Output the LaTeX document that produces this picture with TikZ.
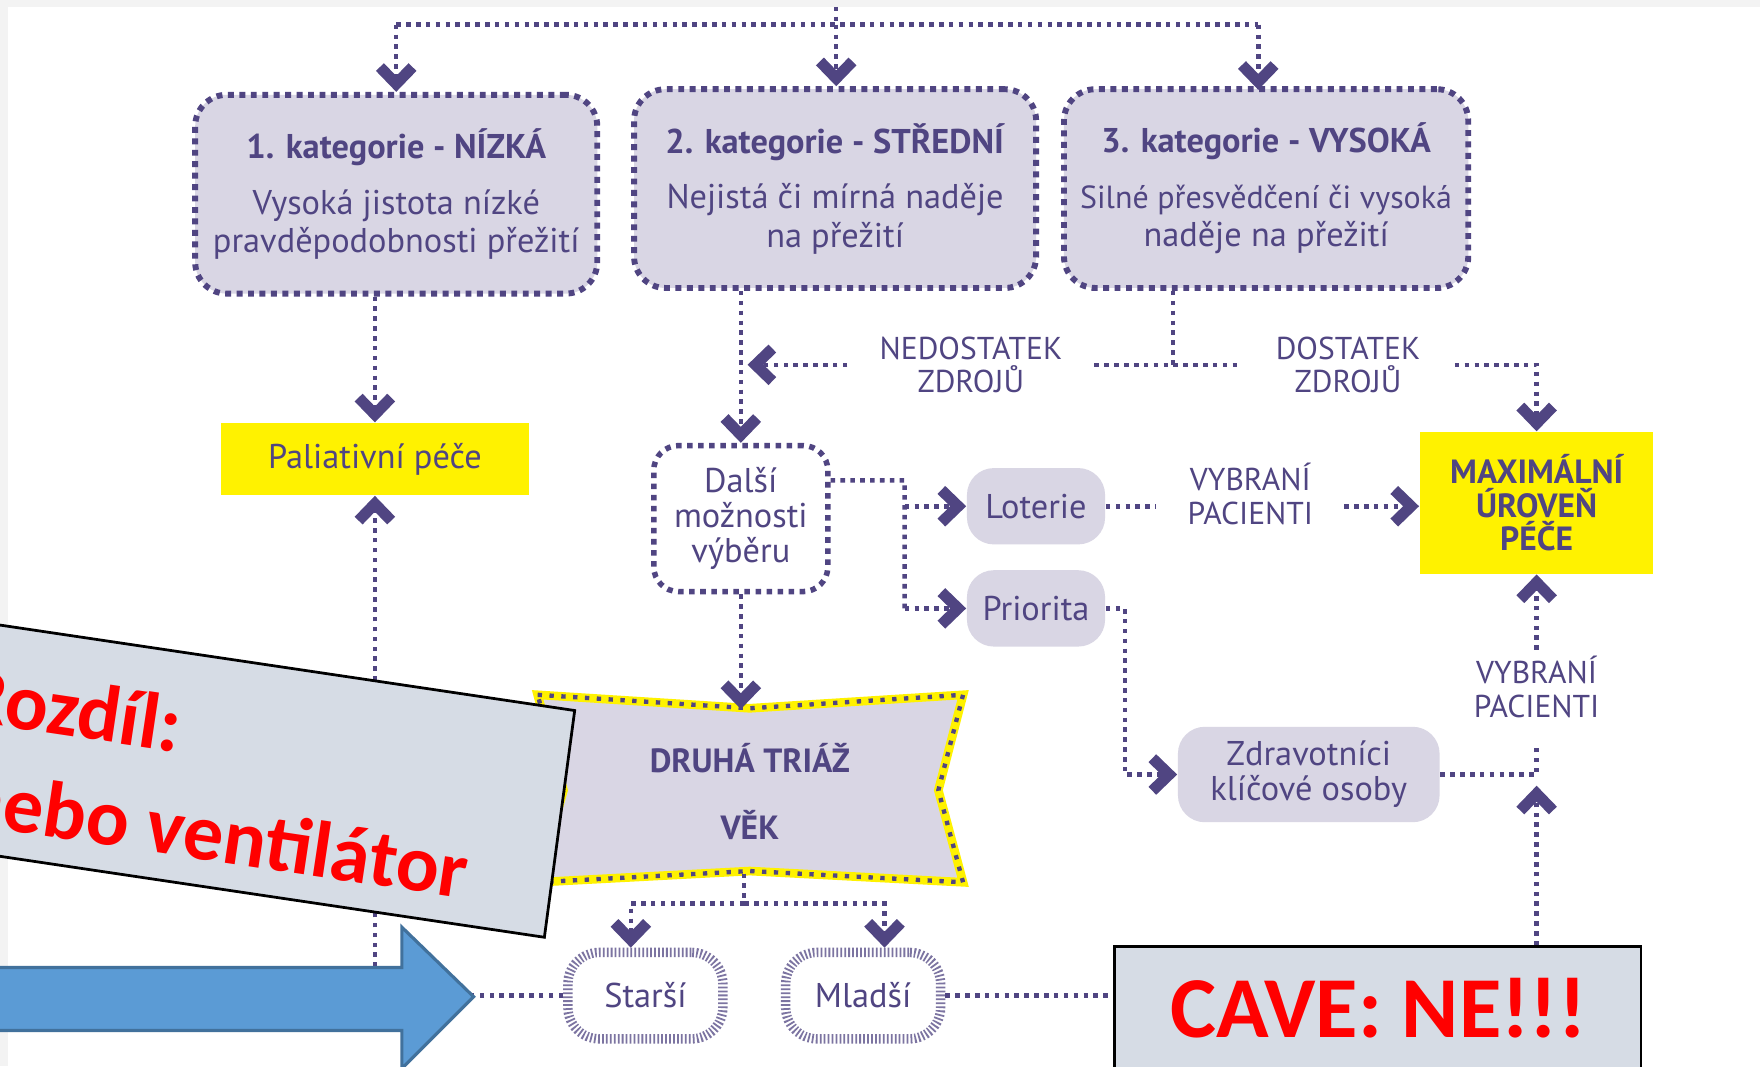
\documentclass[tikz,border=0pt]{standalone}
\usepackage{fontspec}
\setmainfont{PT Sans}
\newfontfamily\carlito{Carlito}
\usetikzlibrary{arrows.meta}

\definecolor{fialova}{RGB}{80,69,130}
\definecolor{levandule}{RGB}{217,214,228}
\definecolor{zluta}{RGB}{255,242,0}
\definecolor{modra}{RGB}{91,155,213}
\definecolor{modraokraj}{RGB}{65,113,156}
\definecolor{sediva}{RGB}{214,220,229}
\definecolor{okraj}{RGB}{243,243,243}

\tikzset{
  spoj/.style={draw=fialova, line width=1.15pt, dash pattern=on 1.15pt off 1.35pt},
  sipka/.style={spoj, -{Straight Barb[length=1.5mm, width=2.9mm, line width=2.8pt]}},
  kategorie/.style={draw=fialova, fill=levandule, line width=1.5pt, dash pattern=on 1.5pt off 1.4pt,
    rounded corners=2.8mm, minimum width=3.58cm, minimum height=1.77cm, align=center,
    inner xsep=1mm, text=fialova, font=\fontsize{8.7}{9.7}\selectfont},
  pece/.style={fill=zluta, minimum width=2.74cm, minimum height=0.64cm, align=center,
    text=fialova, font=\fontsize{8.7}{9.7}\selectfont},
  volba/.style={draw=fialova, fill=white, line width=1.4pt, dash pattern=on 1.4pt off 1.4pt,
    rounded corners=2.2mm, minimum width=1.55cm, minimum height=1.3cm, align=center,
    text=fialova, font=\fontsize{8.7}{8.8}\selectfont, inner sep=0pt},
  moznost/.style={fill=levandule, rounded corners=2.4mm, minimum width=1.23cm, minimum height=0.68cm,
    align=center, text=fialova, font=\fontsize{8.7}{8.8}\selectfont},
  vek/.style={draw=fialova!75, fill=white, line width=2.4pt, dash pattern=on 0.45pt off 0.55pt,
    rounded corners=2.8mm, minimum width=1.38cm, minimum height=0.77cm, text=fialova,
    font=\fontsize{8.7}{9.7}\selectfont},
  popis/.style={align=center, text=fialova, inner sep=0pt, font=\fontsize{8}{8.5}\selectfont},
  cedule/.style={fill=sediva, draw=black, line width=0.7pt},
  vykrik/.style={text=red, inner sep=0pt, font=\carlito\bfseries\fontsize{20.3}{24}\selectfont},
}

\begin{document}
\begin{tikzpicture}[x=0.01cm, y=-0.01cm]
\useasboundingbox (0,0) rectangle (1568,950);
\clip (0,0) rectangle (1568,950);
\fill[white] (0,0) rectangle (1568,950);
\fill[okraj] (0,0) rectangle (1568,6);
\fill[okraj] (0,0) rectangle (7,950);

% tri kategorie
\node[kategorie] (kat1) at (353,173) {\textbf{1. kategorie - NÍZKÁ}\\[4.4pt]Vysoká jistota nízké\\pravděpodobnosti přežití};
\node[kategorie] (kat2) at (744,168) {\textbf{2. kategorie - STŘEDNÍ}\\[4.4pt]Nejistá či mírná naděje\\na přežití};
\node[kategorie, minimum width=3.6cm] (kat3) at (1128,168) {\textbf{3. kategorie - VYSOKÁ}\\[4.4pt]\fontsize{8.1}{9.7}\selectfont Silné přesvědčení či vysoká\\naděje na přežití};

\coordinate (zdroj) at (745,6);
\coordinate (rozvod) at (745,22);
\draw[spoj] (zdroj) -- (rozvod);
\draw[spoj] (kat1.north |- rozvod) -- (1121,22);
\draw[sipka] (kat1.north |- rozvod) -- (kat1.north);
\draw[sipka] (rozvod) -- (rozvod |- kat2.north);
\draw[sipka] (1121,22) -- (1121,80);

% paliativni pece
\node[pece] (pal) at (334,409) {Paliativní péče};
\draw[sipka] (pal.north |- kat1.south) -- (pal.north);

% zdroje
\node[popis] (ned) at (865,325) {NEDOSTATEK\\ZDROJŮ};
\node[popis] (dost) at (1201,325) {DOSTATEK\\ZDROJŮ};
\coordinate (deleni) at (1045,325);
\draw[spoj] (deleni |- kat3.south) -- (deleni);
\draw[spoj, shorten <=2.8mm, shorten >=3mm] (ned.east) -- (dost.west);

\node[volba] (dalsi) at (660,462) {Další\\možnosti\\výběru};
\draw[sipka] (dalsi.north |- kat2.south) -- (dalsi.north);
\draw[sipka, shorten <=2.8mm, shorten >=0.6mm] (ned.west) -- (dalsi.north |- ned.west);

\node[pece, minimum width=2.08cm, minimum height=1.26cm, font=\bfseries\fontsize{8.5}{8.5}\selectfont] (maxp) at (1369,448) {MAXIMÁLNÍ\\ÚROVEŇ\\PÉČE};
\draw[sipka, shorten <=3mm] (dost.east) -| (maxp.north);

% loterie a priorita
\node[moznost] (lot) at (923,451) {Loterie};
\node[moznost] (pri) at (923,542) {Priorita};
\coordinate (vidlice) at (806,428);
\draw[spoj] ([yshift=3.4mm]dalsi.east) -- (vidlice) -- (vidlice |- pri.west);
\draw[sipka] (vidlice |- lot.west) -- (lot.west);
\draw[sipka] (vidlice |- pri.west) -- (pri.west);

\node[popis] (vp1) at (1114,440) {VYBRANÍ\\PACIENTI};
\draw[spoj, shorten >=2.8mm] (lot.east) -- (vp1.west |- lot.east);
\draw[sipka, shorten <=2.7mm] (vp1.east |- lot.east) -- (maxp.west |- lot.east);

% zdravotnici
\node[moznost, minimum width=2.33cm, minimum height=0.85cm] (zdr) at (1166,690) {Zdravotníci\\klíčové osoby};
\draw[sipka] (pri.east) -- ++(17,0) |- (zdr.west);

\node[popis] (vp2) at (1369,612) {VYBRANÍ\\PACIENTI};
\coordinate (spojeni) at (maxp.south |- zdr.east);
\draw[spoj, shorten >=2.2mm] (zdr.east) -- (spojeni) -- (spojeni |- vp2.south);
\draw[sipka, shorten <=0.5mm] (vp2.north) -- (maxp.south);

% druha triaz
\path[fill=levandule, draw=zluta, line width=2.2pt,
  postaction={draw=fialova, line width=1.1pt, dash pattern=on 1.1pt off 1.9pt}]
  (479,619) -- (668,631) -- (858,619) -- (836,704) -- (858,786) -- (668,776) -- (479,786) -- (502,704) -- cycle;
\node[text=fialova, align=center, font=\bfseries\fontsize{8.5}{9.7}\selectfont, minimum height=1.45cm] (druha) at (668,705) {DRUHÁ TRIÁŽ\\[7.3pt]VĚK};
\draw[sipka] (dalsi.south) -- (dalsi.south |- druha.north);

\node[vek] (star) at (575,887) {Starší};
\node[vek] (mlad) at (769,887) {Mladší};
\coordinate (vetev) at (663,805);
\draw[spoj] (druha.south -| vetev) -- (vetev);
\draw[sipka] (vetev) -| ([xshift=-1.3mm]star.north);
\draw[sipka] (vetev) -| ([xshift=1.9mm]mlad.north);
\draw[sipka] (star.west) -| (pal.south);
\draw[sipka, shorten >=1mm] (mlad.east) -| (spojeni);

% modra sipka
\draw[fill=modra, draw=modraokraj, line width=0.8pt] (-20,862) -- (358,862) -- (358,826) -- (422,888) -- (358,952) -- (358,918) -- (-20,918) -- cycle;

% cedule
\draw[cedule] (-100,542) -- (512,633) -- (485,835) -- (-100,748) -- cycle;
\node[vykrik, rotate=-8.5, anchor=base west] (rozdil) at (-37,641) {Rozdíl:};
\node[vykrik, rotate=-8.5, anchor=base west] (nebo) at (-38,733) {nebo ventilátor};
\draw[cedule] (993,843) rectangle (1462,1000);
\node[vykrik, font=\carlito\bfseries\fontsize{22}{26}\selectfont] (cave) at (1228,898) {CAVE: NE!!!};
\end{tikzpicture}
\end{document}
